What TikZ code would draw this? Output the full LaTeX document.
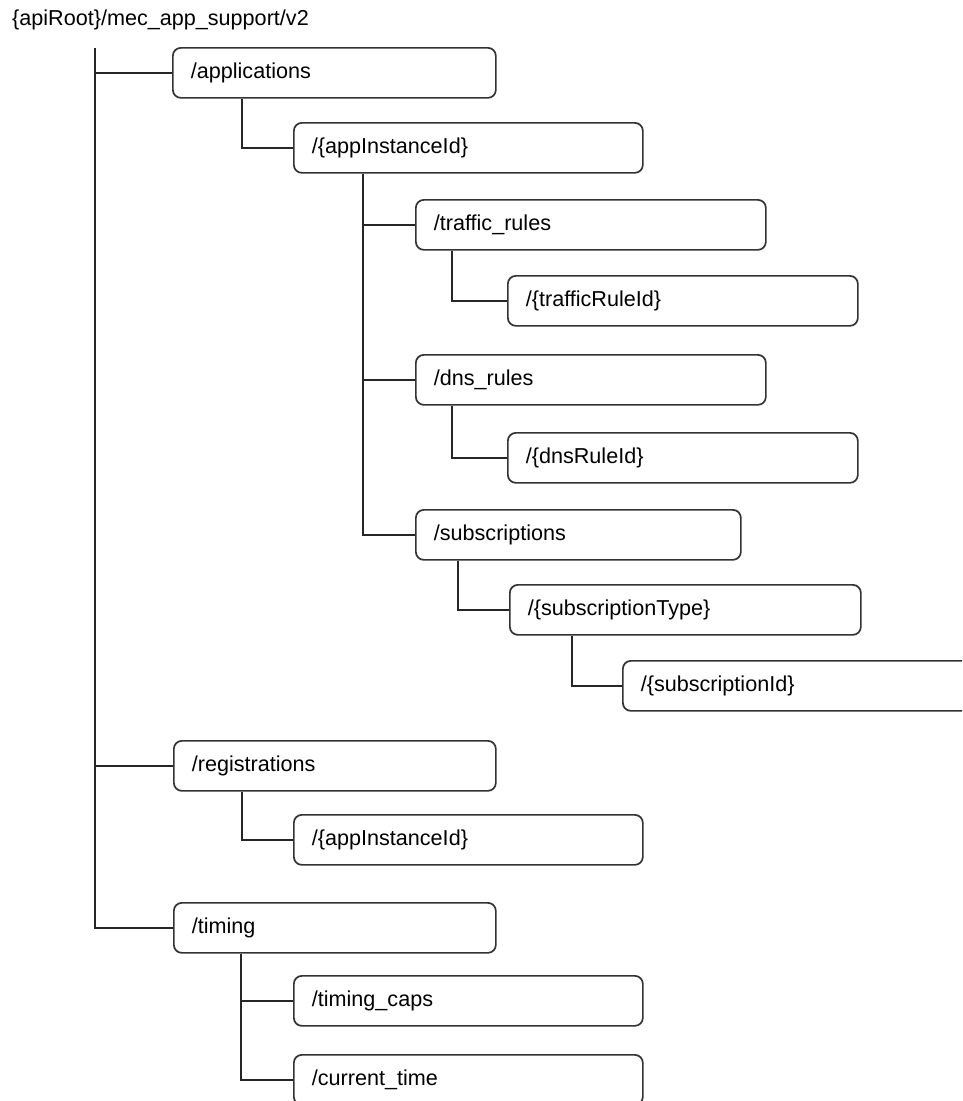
\documentclass[tikz,border=0pt]{standalone}
\usepackage{fontspec}
\setmainfont{Liberation Sans}
\begin{document}
\begin{tikzpicture}[x=1pt,y=-1pt,
  box/.style={draw=black!80, rounded corners=8pt, line width=1.7pt, inner xsep=18pt, inner ysep=0pt,
    minimum height=50pt, align=left, anchor=north west, font=\fontsize{21.6}{25}\selectfont},
  conn/.style={draw=black!85, line width=1.7pt}]
\clip (0,0) rectangle (962,1101);
\fill[white] (0,0) rectangle (962,1101);
\node[anchor=west, inner sep=0pt, font=\fontsize{21.6}{25}\selectfont] (root) at (12,20) {\{apiRoot\}/mec\_app\_support/v2};
\node[box, text width=287pt] (A) at (172,47) {/applications};
\node[box, text width=313pt] (B) at (293,122) {/\{appInstanceId\}};
\node[box, text width=314pt] (C) at (415,199) {/traffic\_rules};
\node[box, text width=314pt] (D) at (507,275) {/\{trafficRuleId\}};
\node[box, text width=314pt] (E) at (415,354) {/dns\_rules};
\node[box, text width=314pt] (F) at (507,432) {/\{dnsRuleId\}};
\node[box, text width=289pt] (G) at (415,509) {/subscriptions};
\node[box, text width=315pt] (H) at (509,584) {/\{subscriptionType\}};
\node[box, text width=314pt] (I) at (622,660) {/\{subscriptionId\}};
\node[box, text width=286pt] (J) at (173,740) {/registrations};
\node[box, text width=313pt] (K) at (293,814) {/\{appInstanceId\}};
\node[box, text width=286pt] (L) at (173,902) {/timing};
\node[box, text width=313pt] (M) at (293,975) {/timing\_caps};
\node[box, text width=313pt] (N) at (293,1054) {/current\_time};
\coordinate (T) at (95,48);
\path[conn] (T) |- (L.west);
\path[conn] (T |- A.west) -- (A.west);
\path[conn] (T |- J.west) -- (J.west);
\path[conn] ([xshift=70pt]A.south west) |- (B.west);
\coordinate (b1) at ([xshift=70pt]B.south west);
\path[conn] (b1) |- (G.west);
\path[conn] (b1 |- C.west) -- (C.west);
\path[conn] (b1 |- E.west) -- (E.west);
\path[conn] ([xshift=37pt]C.south west) |- (D.west);
\path[conn] ([xshift=37pt]E.south west) |- (F.west);
\path[conn] ([xshift=43pt]G.south west) |- (H.west);
\path[conn] ([xshift=63pt]H.south west) |- (I.west);
\path[conn] ([xshift=69pt]J.south west) |- (K.west);
\coordinate (l1) at ([xshift=68pt]L.south west);
\path[conn] (l1) |- (N.west);
\path[conn] (l1 |- M.west) -- (M.west);
\end{tikzpicture}
\end{document}
